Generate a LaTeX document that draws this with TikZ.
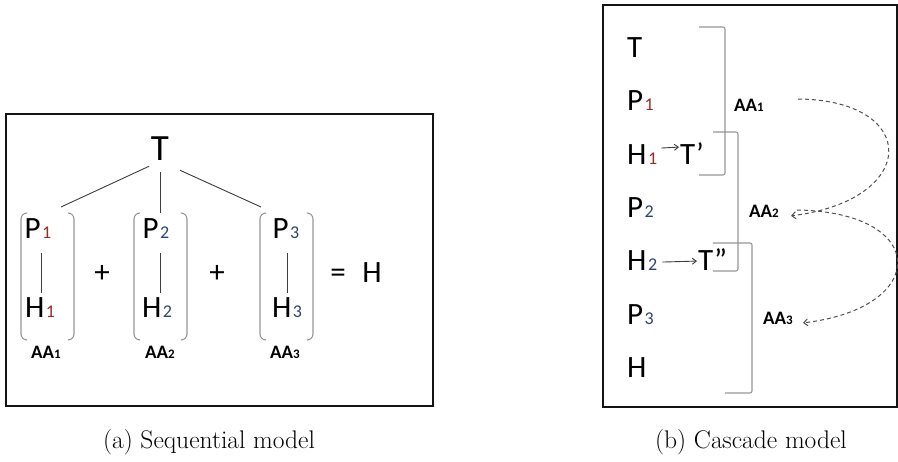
\documentclass[tikz,border=0pt]{standalone}
\usepackage{fontspec}
\newfontfamily\calfont{Carlito}
\usepackage{xcolor}
\definecolor{framegray}{RGB}{20,20,20}
\definecolor{linegray}{RGB}{60,60,60}
\definecolor{brkgray}{RGB}{150,150,150}
\definecolor{dashgray}{RGB}{80,80,80}
\definecolor{digred}{RGB}{150,45,35}
\definecolor{digblue}{RGB}{45,65,115}
\usetikzlibrary{arrows.meta, positioning}
% small digit set on the baseline
\newcommand{\dg}[2][digred]{{\hspace{1.5pt}\fontsize{18}{18}\selectfont\textcolor{#1}{#2}}}
\newcommand{\adg}[1]{{\fontsize{13}{13}\selectfont #1}}

\begin{document}
\begin{tikzpicture}[x=1pt, y=-1pt,
  letter/.style={font=\calfont\fontsize{31}{31}\selectfont, inner sep=0pt},
  aalabel/.style={font=\calfont\bfseries\fontsize{19}{19}\selectfont, inner sep=0pt, anchor=base},
  frame/.style={draw=framegray, line width=1.6pt},
  link/.style={draw=linegray, line width=0.9pt},
  brk/.style={draw=brkgray, line width=1.1pt},
  flow/.style={draw=dashgray, line width=1pt, dash pattern=on 4pt off 3pt, -{Straight Barb[length=4pt,width=7pt]}},
  hop/.style={draw=linegray, line width=0.9pt, -{Straight Barb[length=4pt,width=6pt]}},
  captext/.style={font=\fontsize{25.5}{25.5}\selectfont, inner sep=0pt, anchor=base}]
  \useasboundingbox (0,0) rectangle (898,462);

  % (a) Sequential model
  \draw[frame] (6,114) rectangle (433,406);
  \node[letter, font=\calfont\fontsize{37}{37}\selectfont, anchor=base] (T) at (160,161) {T};

  \node[letter, anchor=base] (P1) at (38,239) {P\dg{1}};
  \node[letter, anchor=base] (H1) at (40,318) {H\dg{1}};
  \node[letter, anchor=base] (P2) at (156,239) {P\dg[digblue]{2}};
  \node[letter, anchor=base] (H2) at (157,318) {H\dg[digblue]{2}};
  \node[letter, anchor=base] (P3) at (286,239) {P\dg[digblue]{3}};
  \node[letter, anchor=base] (H3) at (287,318) {H\dg[digblue]{3}};

  \node[letter, anchor=base] (plus1) at (102,283) {+};
  \node[letter, anchor=base] (plus2) at (217,283) {+};
  \node[letter, anchor=base] (eq) at (338,283) {=};
  \node[letter, anchor=base] (Hsum) at (372,283) {H};

  \node[aalabel] (AA1) at (46,359) {AA\adg{1}};
  \node[aalabel] (AA2) at (160,359) {AA\adg{2}};
  \node[aalabel] (AA3) at (285,359) {AA\adg{3}};

  % links from T down to the three groups
  \coordinate (g1) at (61,207);
  \coordinate (g2) at (160,213);
  \coordinate (g3) at (261,207);
  \draw[link, shorten <=12pt] (T.south) -- (g1);
  \draw[link, shorten <=11pt] (T.south) -- (g2);
  \draw[link, shorten <=22pt] (T.south) -- (g3);
  \draw[link] ([yshift=-14pt]P1.south -| 41,0) -- ([yshift=5pt]H1.north -| 41,0);
  \draw[link] ([yshift=-14pt]P2.south -| 160,0) -- ([yshift=5pt]H2.north -| 160,0);
  \draw[link] ([yshift=-14pt]P3.south -| 287,0) -- ([yshift=5pt]H3.north -| 287,0);

  % round brackets round each group
  \draw[brk, rounded corners=6pt] (27,213) -- (21,213) -- (21,340) -- (27,340);
  \draw[brk, rounded corners=6pt] (68,213) -- (74,213) -- (74,340) -- (68,340);
  \draw[brk, rounded corners=6pt] (140,213) -- (134,213) -- (134,340) -- (140,340);
  \draw[brk, rounded corners=6pt] (181,213) -- (187,213) -- (187,340) -- (181,340);
  \draw[brk, rounded corners=6pt] (266,213) -- (260,213) -- (260,340) -- (266,340);
  \draw[brk, rounded corners=6pt] (307,213) -- (313,213) -- (313,340) -- (307,340);

  \node[captext] (capa) at (209,449) {(a) Sequential model};

  % (b) Cascade model
  \draw[frame] (603,5) rectangle (897,407);
  \node[letter, anchor=base west] (cT) at (627,58) {T};
  \node[letter, anchor=base west] (cP1) at (627,111) {P\dg{1}};
  \node[letter, anchor=base west] (cH1) at (627,165) {H\dg{1}};
  \node[letter, anchor=base west] (cTa) at (680,165) {T’};
  \node[letter, anchor=base west] (cP2) at (627,218) {P\dg[digblue]{2}};
  \node[letter, anchor=base west] (cH2) at (627,271) {H\dg[digblue]{2}};
  \node[letter, anchor=base west] (cTb) at (698,271) {T”};
  \node[letter, anchor=base west] (cP3) at (627,325) {P\dg[digblue]{3}};
  \node[letter, anchor=base west] (cH) at (627,378) {H};

  \draw[hop] ([xshift=4pt,yshift=7pt]cH1.east) -- ([xshift=-1pt,yshift=7pt]cTa.west);
  \draw[hop] ([xshift=5pt,yshift=-1pt]cH2.east) -- ([xshift=-1pt,yshift=-1pt]cTb.west);

  % square brackets marking each AA step
  \draw[brk, rounded corners=2pt] (699,27) -- (725,27) -- (725,175) -- (699,175);
  \draw[brk, rounded corners=2pt] (713,132) -- (738,132) -- (738,271) -- (713,271);
  \draw[brk, rounded corners=2pt] (713,243) -- (752,243) -- (752,393) -- (725,393);

  \node[aalabel] (cAA1) at (749,112) {AA\adg{1}};
  \node[aalabel] (cAA2) at (764,218) {AA\adg{2}};
  \node[aalabel] (cAA3) at (778,325) {AA\adg{3}};

  % dashed hand-over arrows
  \coordinate (f1) at (798,99);
  \coordinate (f2) at (797,210);
  \draw[flow] (f1) .. controls (920,100) and (920,200) .. ([xshift=12pt,yshift=-4pt]cAA2.east);
  \draw[flow] (f2) .. controls (930,212) and (930,308) .. ([xshift=10pt,yshift=-4pt]cAA3.east);

  \node[captext] (capb) at (751,449) {(b) Cascade model};
\end{tikzpicture}
\end{document}
